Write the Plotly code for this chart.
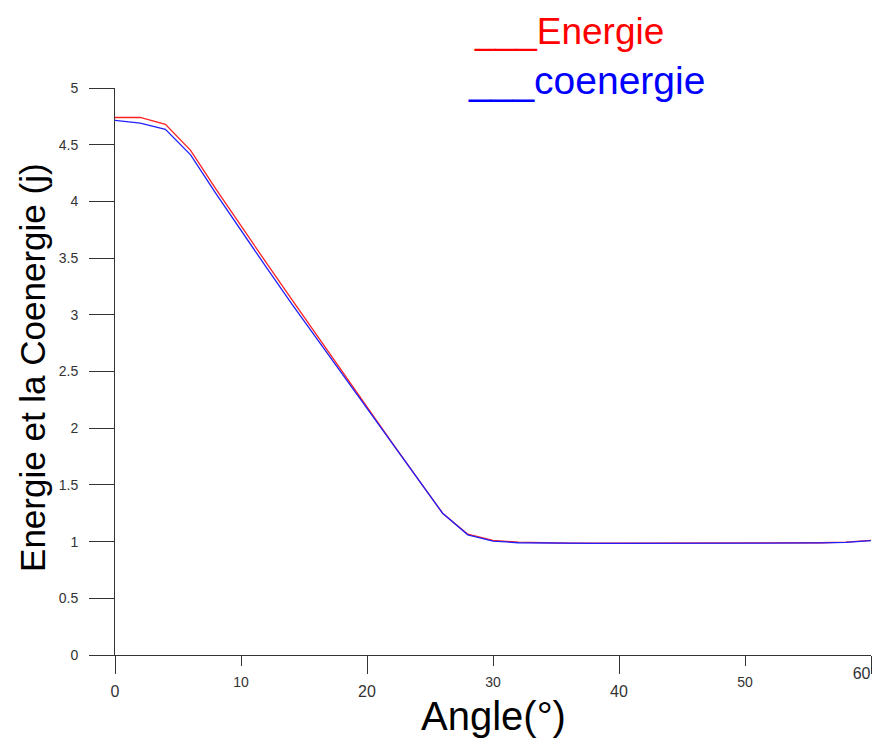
import plotly.graph_objects as go

angle = [0, 2, 4, 6, 8, 10, 12, 14, 16, 18, 20, 22, 24, 26, 28, 30,
         32, 34, 36, 38, 40, 42, 44, 46, 48, 50, 52, 54, 56, 58, 60]
energie = [4.74, 4.74, 4.68, 4.45, 4.11, 3.78, 3.46, 3.14, 2.82, 2.50, 2.19,
           1.87, 1.56, 1.25, 1.065, 1.01, 0.995, 0.99, 0.987, 0.987, 0.987,
           0.987, 0.987, 0.987, 0.987, 0.987, 0.987, 0.987, 0.99, 0.995, 1.01]
coenergie = [4.715, 4.69, 4.635, 4.41, 4.07, 3.74, 3.42, 3.10, 2.79, 2.48, 2.17,
             1.86, 1.55, 1.25, 1.06, 1.005, 0.99, 0.987, 0.985, 0.985, 0.985,
             0.985, 0.985, 0.985, 0.985, 0.985, 0.985, 0.985, 0.988, 0.993, 1.008]

major_x = [0, 20, 40]
major_x_labels = ["0", "20", "40"]
end_x = [60]
end_x_labels = ["60"]
minor_x = [10, 30, 50]
minor_x_labels = ["10", "30", "50"]
y_ticks = [0, 0.5, 1, 1.5, 2, 2.5, 3, 3.5, 4, 4.5, 5]
y_labels = ["0", "0.5", "1", "1.5", "2", "2.5", "3", "3.5", "4", "4.5", "5"]

FONT = "Liberation Sans, Arial, sans-serif"
AX = "#333333"

fig = go.Figure()
fig.add_trace(go.Scatter(x=angle, y=energie, mode="lines",
                         line=dict(color="#ff2020", width=1.3), name="Energie"))
fig.add_trace(go.Scatter(x=angle, y=coenergie, mode="lines",
                         line=dict(color="#2020ff", width=1.3), name="coenergie"))
# dummy traces to activate the extra tick axes
fig.add_trace(go.Scatter(x=[0, 60], y=[None, None], xaxis="x2", showlegend=False,
                         hoverinfo="skip"))
fig.add_trace(go.Scatter(x=[0, 60], y=[None, None], xaxis="x3", showlegend=False,
                         hoverinfo="skip"))

fig.update_layout(
    width=867, height=733,
    margin=dict(l=107, r=4, t=80, b=86, autoexpand=False),
    paper_bgcolor="white", plot_bgcolor="white",
    showlegend=False,
    font=dict(family=FONT, color="#333333"),
    xaxis=dict(range=[0, 60], tickvals=major_x, ticktext=major_x_labels,
               ticks="outside", ticklen=18, tickwidth=1, tickcolor=AX,
               ticklabelstandoff=4, automargin=False,
               showline=True, linecolor=AX, linewidth=1, showgrid=False,
               zeroline=False, tickfont=dict(size=16, color="#333333"), anchor="y"),
    xaxis2=dict(range=[0, 60], overlaying="x", side="bottom", anchor="y",
                tickvals=minor_x, ticktext=minor_x_labels,
                ticks="outside", ticklen=10, tickwidth=1, tickcolor=AX,
                ticklabelstandoff=4, automargin=False,
                showline=False, showgrid=False, zeroline=False,
                tickfont=dict(size=14, color="#333333")),
    xaxis3=dict(range=[0, 60], overlaying="x", side="bottom", anchor="y",
                tickvals=end_x, ticktext=end_x_labels,
                ticks="outside", ticklen=18, tickwidth=1, tickcolor=AX,
                ticklabelstandoff=4, automargin=False,
                ticklabelposition="outside left",
                showline=False, showgrid=False, zeroline=False,
                tickfont=dict(size=16, color="#333333")),
    yaxis=dict(range=[0, 5], tickvals=y_ticks, ticktext=y_labels,
               ticks="outside", ticklen=25, tickwidth=1, tickcolor=AX,
               ticklabelstandoff=8, automargin=False,
               showline=True, linecolor=AX, linewidth=1, showgrid=False,
               zeroline=False, tickfont=dict(size=14, color="#333333")),
)

fig.add_annotation(text="Angle(°)", xref="paper", yref="paper", x=0.5, y=-0.108,
                   showarrow=False, font=dict(size=40, color="black", family=FONT),
                   xanchor="center", yanchor="middle")
fig.add_annotation(text="Energie et la Coenergie (j)", xref="paper", yref="paper",
                   x=-0.1085, y=0.508, textangle=-90, showarrow=False,
                   font=dict(size=35, color="black", family=FONT),
                   xanchor="center", yanchor="middle")
fig.add_annotation(text="___Energie", xref="paper", yref="paper", x=0.4735, y=1.0996,
                   showarrow=False, borderpad=0,
                   font=dict(size=37, color="#ff0000", family=FONT),
                   xanchor="left", yanchor="middle")
fig.add_annotation(text="___coenergie", xref="paper", yref="paper", x=0.4656, y=1.0141,
                   showarrow=False, borderpad=0,
                   font=dict(size=39, color="#0000ff", family=FONT),
                   xanchor="left", yanchor="middle")

fig.write_html("out.html")
